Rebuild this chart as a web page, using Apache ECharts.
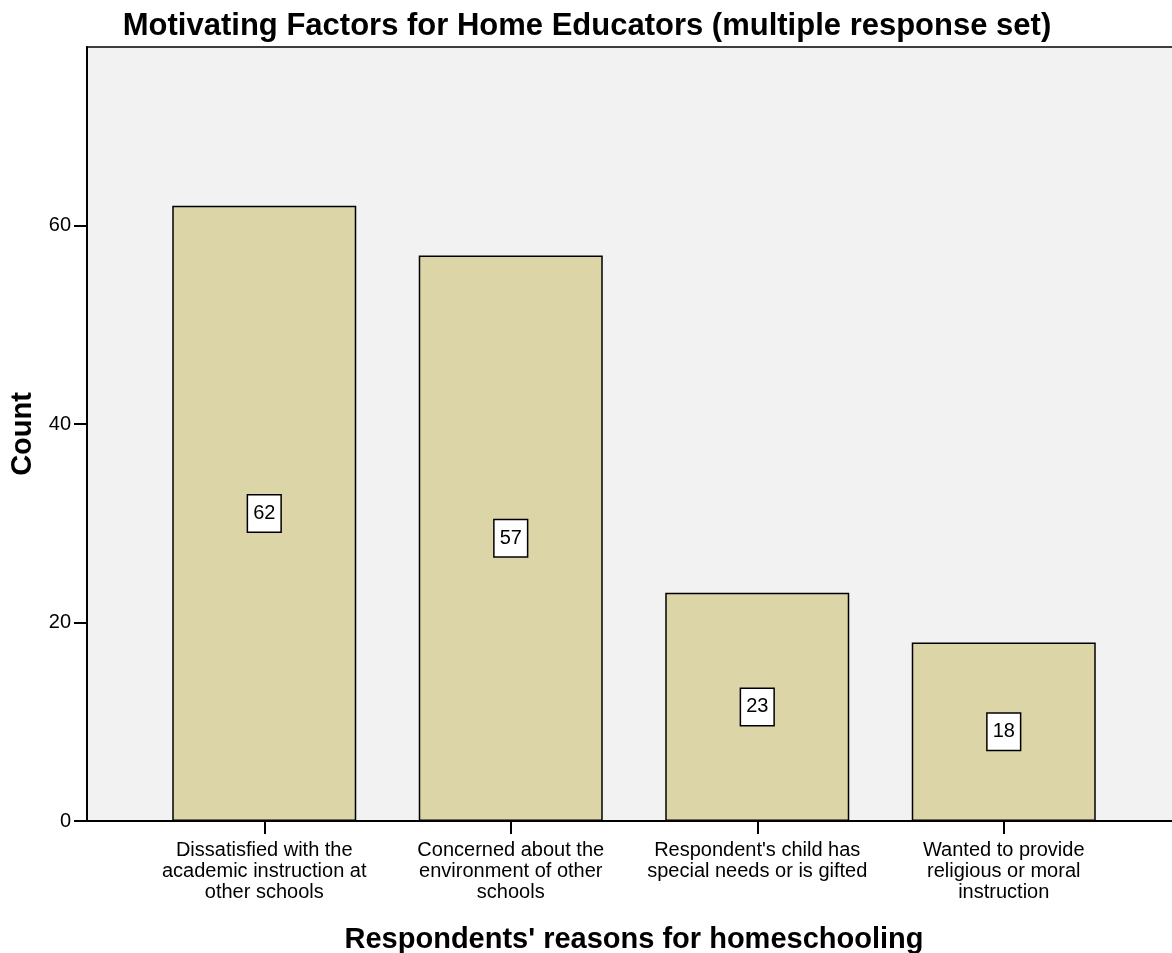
<!DOCTYPE html>
<html>
<head>
<meta charset="utf-8">
<script src="https://cdn.jsdelivr.net/npm/echarts@6/dist/echarts.min.js"></script>
<style>
  html, body { margin: 0; padding: 0; background: #fff; }
  #chart { width: 1172px; height: 953px; }
</style>
</head>
<body>
<div id="chart"></div>
<script>
// reasons for homeschooling (x categories)
const reasons = [
  'Dissatisfied with the\nacademic instruction at\nother schools',
  'Concerned about the\nenvironment of other\nschools',
  "Respondent's child has\nspecial needs or is gifted",
  'Wanted to provide\nreligious or moral\ninstruction'
];
const counts = [62, 57, 23, 18];
const yTicks = [0, 20, 40, 60];

const chart = echarts.init(document.getElementById('chart'));
const font = 'Liberation Sans, Arial, sans-serif';

const option = {
  animation: false,
  title: {
    text: 'Motivating Factors for Home Educators (multiple response set)',
    left: 582,
    textAlign: 'center',
    top: 6,
    textStyle: { fontFamily: font, fontSize: 31, fontWeight: 'bold', color: '#000' }
  },
  grid: [
    // plot background frame
    { left: 87, top: 47, right: -9, bottom: 132, outerBoundsMode: 'none', show: true, backgroundColor: '#f2f2f2', borderColor: '#000', borderWidth: 1.5 },
    // bars
    { left: 141, top: 47, width: 986, bottom: 132, outerBoundsMode: 'none' }
  ],
  xAxis: [
    {
      gridIndex: 0, type: 'value', min: 0, max: 1,
      axisLine: { show: true, lineStyle: { color: '#000', width: 2 } },
      axisTick: { show: false }, axisLabel: { show: false }, splitLine: { show: false },
      name: "Respondents' reasons for homeschooling",
      nameLocation: 'middle', nameGap: 104,
      nameTextStyle: { fontFamily: font, fontSize: 29, fontWeight: 'bold', color: '#000' }
    },
    {
      gridIndex: 1, type: 'category', data: reasons,
      axisLine: { show: false },
      axisTick: { show: true, alignWithLabel: true, length: 13, lineStyle: { color: '#000', width: 2 } },
      axisLabel: { interval: 0, margin: 19, fontFamily: font, fontSize: 20, lineHeight: 21, color: '#000' }
    }
  ],
  yAxis: [
    {
      gridIndex: 0, type: 'value', min: 0, max: 78, show: false
    },
    {
      gridIndex: 1, type: 'value', min: 0, max: 78, interval: 20, offset: 54,
      axisLine: { show: true, lineStyle: { color: '#000', width: 2 } },
      axisTick: { show: true, length: 13, customValues: yTicks, lineStyle: { color: '#000', width: 2 } },
      axisLabel: {
        fontFamily: font, fontSize: 20, color: '#000', margin: 16,
        customValues: yTicks
      },
      splitLine: { show: false },
      name: 'Count', nameLocation: 'middle', nameGap: 10,
      nameTextStyle: { fontFamily: font, fontSize: 29, fontWeight: 'bold', color: '#000' }
    }
  ],
  series: [
    {
      type: 'bar', xAxisIndex: 1, yAxisIndex: 1,
      data: counts, barWidth: 184,
      itemStyle: { color: '#dcd5a8', borderColor: '#000', borderWidth: 1.5 },
      label: {
        show: true, position: 'inside',
        fontFamily: font, fontSize: 20, color: '#000',
        backgroundColor: '#fff', borderColor: '#000', borderWidth: 1.5,
        padding: [9, 5, 7, 5]
      }
    }
  ]
};

chart.setOption(option);
</script>
</body>
</html>
